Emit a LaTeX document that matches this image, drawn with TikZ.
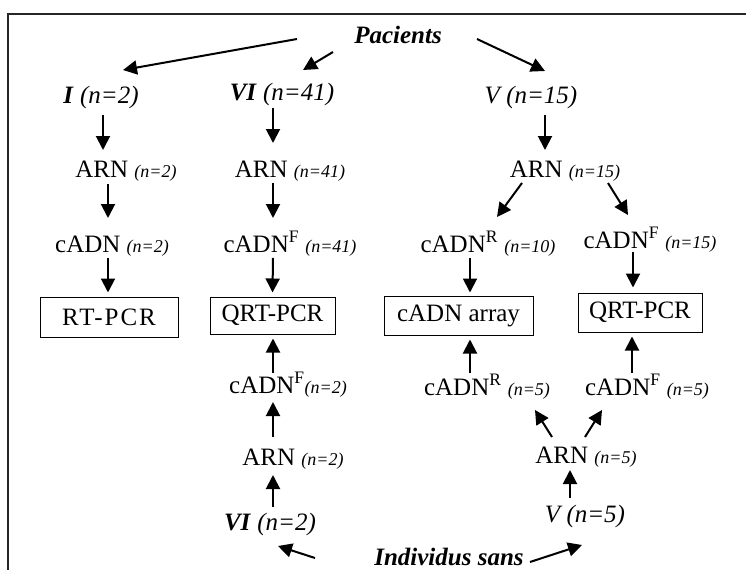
\documentclass[tikz,border=0pt]{standalone}
\usepackage{fontspec}
\setmainfont{Liberation Serif}
\usetikzlibrary{arrows.meta}
\newcommand\cnt[1]{{\fontsize{18}{18}\selectfont\itshape (n=#1)}}
\newcommand\supr[1]{\textsuperscript{#1}}
\begin{document}
\begin{tikzpicture}[x=1pt,y=-1pt,
  txt/.style={inner sep=0pt,anchor=base,font=\fontsize{25}{29}\selectfont},
  boxnode/.style={draw,line width=1pt,inner sep=0pt,font=\fontsize{25}{29}\selectfont},
  arr/.style={line width=2pt,-{Triangle[length=14pt,width=14pt]}}]
\useasboundingbox (0,0) rectangle (747,570);
% partial frame
\draw[line width=2pt,black!85] (746,14) -- (8,14) -- (8,570);

% patients
\node[txt] (pac) at (398,43) {\textbf{\textit{Pacients}}};
\node[txt] (i1)  at (101,103) {\textbf{\textit{I}}\textit{ (n=2)}};
\node[txt] (vi1) at (282,100) {\textbf{\textit{VI}}\textit{ (n=41)}};
\node[txt] (v1)  at (531,103) {\textit{V (n=15)}};

\node[txt] (arn1) at (126,177) {ARN \cnt{2}};
\node[txt] (arn2) at (290,177) {ARN \cnt{41}};
\node[txt] (arn3) at (565,177) {ARN \cnt{15}};

\node[txt] (cadn1) at (112,252) {cADN \cnt{2}};
\node[txt] (cadn2) at (290,252) {cADN\supr{F} \cnt{41}};
\node[txt] (cadnR) at (488,252) {cADN\supr{R} \cnt{10}};
\node[txt] (cadnF) at (650,248) {cADN\supr{F} \cnt{15}};

\node[boxnode,minimum width=138pt,minimum height=40pt] (box1) at (109,317) {\addfontfeature{LetterSpace=8}RT-PCR};
\node[boxnode,minimum width=125pt,minimum height=37pt] (box2) at (272.5,315.5) {QRT-PCR};
\node[boxnode,minimum width=149pt,minimum height=39pt] (box3) at (458.5,315.5) {cADN array};
\node[boxnode,minimum width=124pt,minimum height=39pt] (box4) at (640,312.5) {QRT-PCR};

% healthy individuals
\node[txt] (cadnF2) at (288,393) {cADN\supr{F}\cnt{2}};
\node[txt] (arnL)   at (293,465) {ARN \cnt{2}};
\node[txt] (viL)    at (270,530) {\textbf{\textit{VI}}\textit{ (n=2)}};
\node[txt] (cadnR5) at (487,395) {cADN\supr{R} \cnt{5}};
\node[txt] (cadnF5) at (647,395) {cADN\supr{F} \cnt{5}};
\node[txt] (arn5)   at (586,463) {ARN \cnt{5}};
\node[txt] (v5)     at (585,522) {\textit{V (n=5)}};
\node[txt] (ind)    at (449,565) {\textbf{\textit{Individus sans}}};

% connectors, top part
\draw[arr] ([shift={(-101,-4)}]pac.base) -- ([shift={(22,-33)}]i1.base);
\draw[arr] ([shift={(-65,9)}]pac.base) -- ([shift={(21,-30)}]vi1.base);
\draw[arr] ([shift={(79,-4)}]pac.base) -- ([shift={(14,-32)}]v1.base);
\draw[arr] ([shift={(2,12)}]i1.base) -- ([shift={(-23,-27)}]arn1.base);
\draw[arr] ([shift={(-9,8)}]vi1.base) -- ([shift={(-17,-34)}]arn2.base);
\draw[arr] ([shift={(14,12)}]v1.base) -- ([shift={(-20,-27)}]arn3.base);
\draw[arr] ([shift={(-18,7)}]arn1.base) -- ([shift={(-4,-34)}]cadn1.base);
\draw[arr] ([shift={(-17,6)}]arn2.base) -- ([shift={(-17,-34)}]cadn2.base);
\draw[arr] ([shift={(-43,6)}]arn3.base) -- ([shift={(9,-35)}]cadnR.base);
\draw[arr] ([shift={(43,6)}]arn3.base) -- ([shift={(-22,-33)}]cadnF.base);
\draw[arr] ([shift={(-4,6)}]cadn1.base) -- ([shift={(-1,-4)}]box1.north);
\draw[arr] ([shift={(-17,6)}]cadn2.base) -- ([shift={(0,-4)}]box2.north);
\draw[arr] ([shift={(-18,6)}]cadnR.base) -- ([shift={(11.5,-3)}]box3.north);
\draw[arr] ([shift={(-17,4)}]cadnF.base) -- ([shift={(-7,-5)}]box4.north);

% connectors, bottom part
\draw[arr] ([shift={(-15,-20)}]cadnF2.base) -- ([shift={(0.5,4)}]box2.south);
\draw[arr] ([shift={(-20,-28)}]arnL.base) -- ([shift={(-15,9)}]cadnF2.base);
\draw[arr] ([shift={(3,-23)}]viL.base) -- ([shift={(-20,10)}]arnL.base);
\draw[arr] ([shift={(-134,-7)}]ind.base) -- ([shift={(8,16)}]viL.base);
\draw[arr] ([shift={(-17,-22)}]cadnR5.base) -- ([shift={(11.5,4)}]box3.south);
\draw[arr] ([shift={(-15,-22)}]cadnF5.base) -- ([shift={(-8,4)}]box4.south);
\draw[arr] ([shift={(-34,-26)}]arn5.base) -- ([shift={(48,15)}]cadnR5.base);
\draw[arr] ([shift={(-1,-26)}]arn5.base) -- ([shift={(-45,15)}]cadnF5.base);
\draw[arr] ([shift={(-15,-24)}]v5.base) -- ([shift={(-16,7)}]arn5.base);
\draw[arr] ([shift={(81,-3)}]ind.base) -- ([shift={(-3,23)}]v5.base);
\end{tikzpicture}
\end{document}
